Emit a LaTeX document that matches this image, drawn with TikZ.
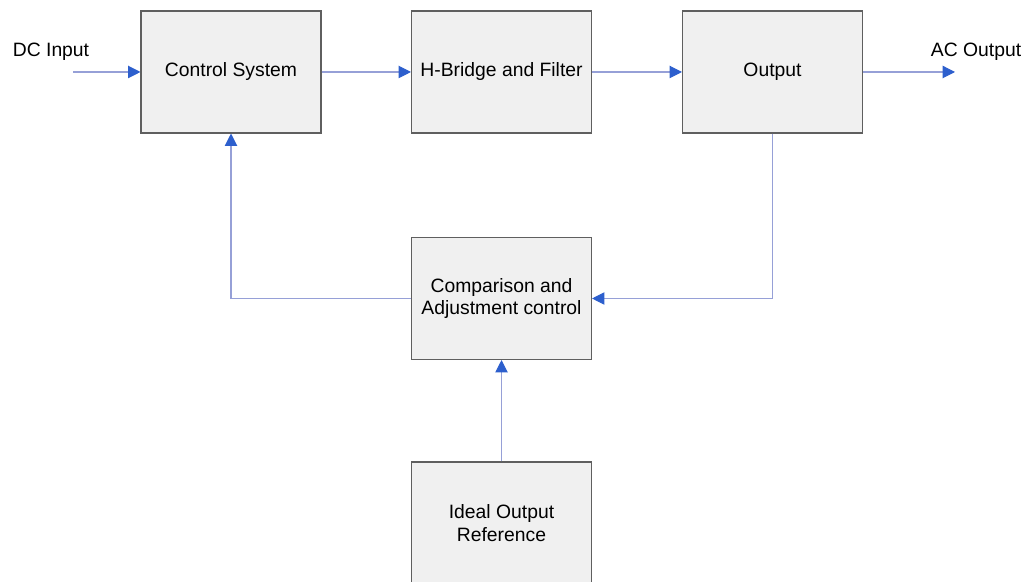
\documentclass[tikz,border=0pt]{standalone}
\usepackage{fontspec}
\setmainfont{Liberation Sans}
\usepackage{xcolor}
\usepackage{tikz}
\usetikzlibrary{arrows.meta}

\definecolor{boxfill}{RGB}{240,240,240}
\definecolor{boxline}{RGB}{95,95,95}
\definecolor{wire}{RGB}{150,160,215}
\definecolor{tipblue}{RGB}{45,95,205}

\begin{document}
\begin{tikzpicture}[
    block/.style={draw=boxline, fill=boxfill, line width=0.6pt,
        minimum width=3.6cm, minimum height=2.44cm, align=center,
        font=\fontsize{11}{13}\selectfont},
    flow/.style={draw=wire, line width=0.6pt,
        -{Triangle[length=7pt, width=7pt, color=tipblue]}},
    tag/.style={font=\fontsize{11}{13}\selectfont}
]
    \useasboundingbox (0, 0) rectangle (20.56, 11.64);

    % Draw the blocks
    \node[block] (control) at (4.62, 10.2) {Control System};
    \node[block] (bridge) at (10.03, 10.2) {H-Bridge and Filter};
    \node[block] (output) at (15.45, 10.2) {Output};
    \node[block] (compare) at (10.03, 5.67) {Comparison and\\Adjustment control};
    \node[block] (ideal) at (10.03, 1.18) {Ideal Output\\Reference};

    % Input and output labels
    \node[tag] (dcin) at (1.02, 10.6) {DC Input};
    \node[tag] (acout) at (19.52, 10.6) {AC Output};
    \coordinate (instart) at (1.46, 10.2);
    \coordinate (outend) at (19.1, 10.2);

    % Forward path
    \draw[flow] (instart) -- (control);
    \draw[flow] (control) -- (bridge);
    \draw[flow] (bridge) -- (output);
    \draw[flow] (output) -- (outend);

    % Feedback path
    \draw[flow] (output.south) |- (compare.east);
    \draw[flow] (compare.west) -| (control.south);
    \draw[flow] (ideal) -- (compare);

\end{tikzpicture}
\end{document}
